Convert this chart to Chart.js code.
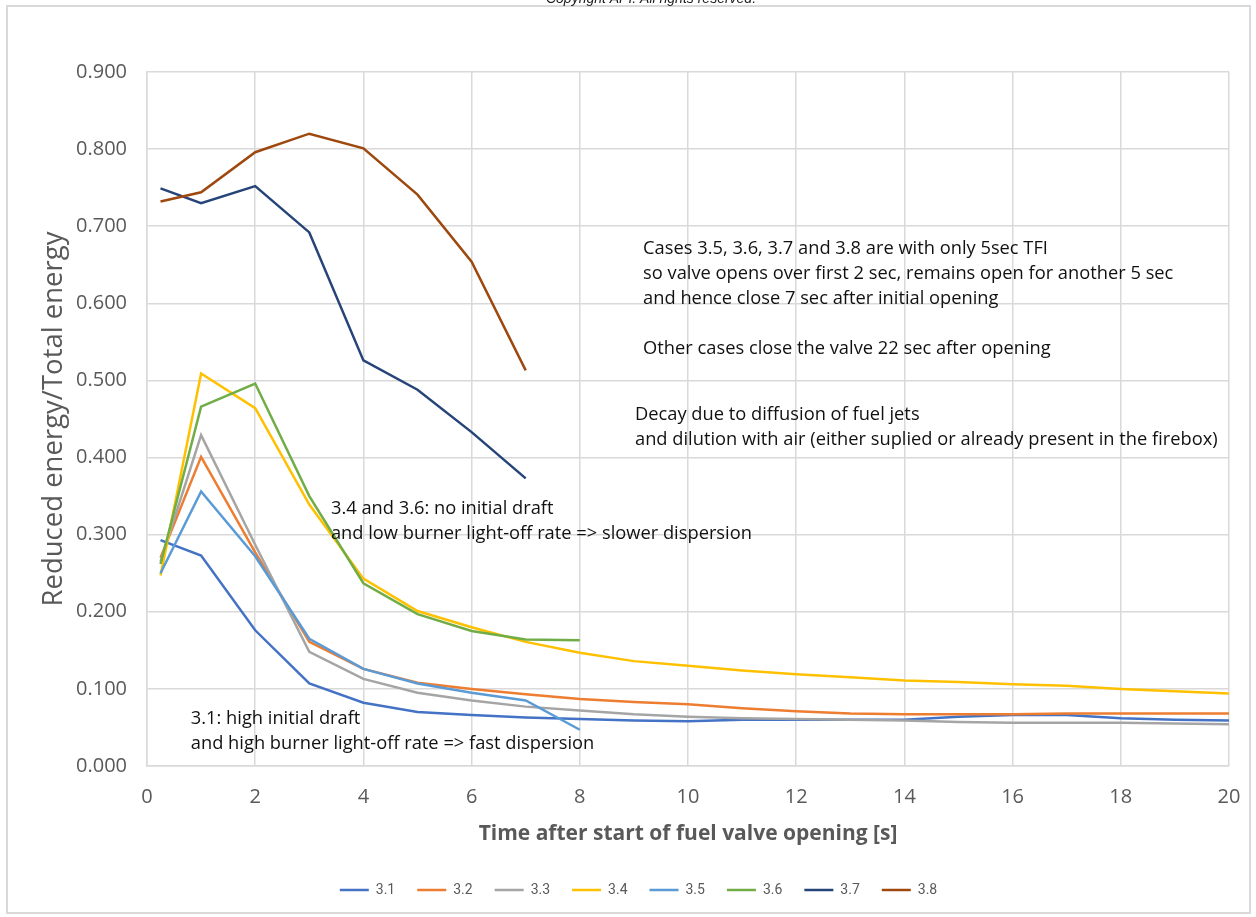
<!DOCTYPE html>
<html>
<head>
<meta charset="utf-8">
<script src="https://cdn.jsdelivr.net/npm/chart.js@4.4.1/dist/chart.umd.min.js"></script>
<style>
    html, body { margin: 0; padding: 0; background: #fff; }
    #wrap { width: 1256px; height: 917px; }
</style>
</head>
<body>
<div id="wrap"><canvas id="myChart" width="1256" height="917"></canvas></div>
<script>
// time after start of fuel valve opening [s]
const times = [0.25, 1, 2, 3, 4, 5, 6, 7, 8, 9, 10, 11, 12, 13, 14, 15, 16, 17, 18, 19, 20];

// reduced energy / total energy, per case
const case31 = [0.293, 0.273, 0.176, 0.107, 0.082, 0.070, 0.066, 0.063, 0.061, 0.059, 0.058, 0.060, 0.060, 0.060, 0.060, 0.064, 0.066, 0.066, 0.062, 0.060, 0.059];
const case32 = [0.270, 0.401, 0.277, 0.161, 0.126, 0.108, 0.100, 0.093, 0.087, 0.083, 0.080, 0.075, 0.071, 0.068, 0.067, 0.067, 0.067, 0.068, 0.068, 0.068, 0.068];
const case33 = [0.265, 0.429, 0.287, 0.148, 0.113, 0.095, 0.085, 0.077, 0.072, 0.067, 0.064, 0.062, 0.061, 0.060, 0.059, 0.057, 0.056, 0.056, 0.056, 0.055, 0.054];
const case34 = [0.247, 0.509, 0.464, 0.339, 0.243, 0.201, 0.180, 0.161, 0.147, 0.136, 0.130, 0.124, 0.119, 0.115, 0.111, 0.109, 0.106, 0.104, 0.100, 0.097, 0.094];
const case35 = [0.250, 0.356, 0.272, 0.165, 0.126, 0.107, 0.095, 0.085, 0.047];
const case36 = [0.262, 0.466, 0.496, 0.350, 0.237, 0.197, 0.175, 0.164, 0.163];
const case37 = [0.749, 0.730, 0.752, 0.692, 0.526, 0.488, 0.433, 0.373];
const case38 = [0.732, 0.744, 0.796, 0.820, 0.801, 0.741, 0.654, 0.513];

const caseLabels = ['3.1', '3.2', '3.3', '3.4', '3.5', '3.6', '3.7', '3.8'];
const caseValues = [case31, case32, case33, case34, case35, case36, case37, case38];
const caseColors = ['#4472C4', '#ED7D31', '#A5A5A5', '#FFC000', '#5B9BD5', '#70AD47', '#264478', '#9E480E'];

const yTicks = [0, 0.1, 0.2, 0.3, 0.4, 0.5, 0.6, 0.7, 0.8, 0.9];
const xTicks = [0, 2, 4, 6, 8, 10, 12, 14, 16, 18, 20];

// notes on the plot, anchored in data units (left edge, centre of first line)
const notes = [
    { x: 9.17, y: 0.671, lines: ['Cases 3.5, 3.6, 3.7 and 3.8 are with only 5sec TFI',
                                 'so valve opens over first 2 sec, remains open for another 5 sec',
                                 'and hence close 7 sec after initial opening',
                                 '',
                                 'Other cases close the valve 22 sec after opening'] },
    { x: 9.02, y: 0.455, lines: ['Decay due to diffusion of fuel jets',
                                 'and dilution with air (either suplied or already present in the firebox)'] },
    { x: 3.40, y: 0.334, lines: ['3.4 and 3.6: no initial draft',
                                 'and low burner light-off rate => slower dispersion'] },
    { x: 0.81, y: 0.061, lines: ['3.1: high initial draft',
                                 'and high burner light-off rate => fast dispersion'] }
];

const axisGray = '#595959';
const gridGray = '#d9d9d9';

const datasets = caseValues.map((vals, i) => ({
    label: caseLabels[i],
    data: vals.map((v, j) => ({ x: times[j], y: v })),
    borderColor: caseColors[i],
    backgroundColor: caseColors[i],
    borderWidth: 2.5,
    pointRadius: 0,
    tension: 0,
    fill: false,
    order: caseLabels.length - i
}));

const notesPlugin = {
    id: 'notes',
    afterDatasetsDraw(chart) {
        const { ctx, scales: { x, y } } = chart;
        ctx.save();
        ctx.font = '18.3px "Open Sans"';
        ctx.fillStyle = '#111';
        ctx.textBaseline = 'middle';
        ctx.textAlign = 'left';
        notes.forEach(n => {
            const px = x.getPixelForValue(n.x);
            const py = y.getPixelForValue(n.y);
            n.lines.forEach((t, k) => ctx.fillText(t, px, py + k * 25));
        });
        ctx.restore();
    }
};

const framePlugin = {
    id: 'frame',
    afterLayout(chart) {
        // legend sits a little right of centre in the original
        chart.legend.left += 24;
        chart.legend.right += 24;
    },
    beforeDraw(chart) {
        const { ctx, width, height } = chart;
        ctx.save();
        ctx.fillStyle = '#fff';
        ctx.fillRect(0, 0, width, height);
        ctx.strokeStyle = '#d9d9d9';
        ctx.lineWidth = 2;
        ctx.strokeRect(7, 6, width - 13, height - 10);
        ctx.font = 'italic 14px "Liberation Sans"';
        ctx.fillStyle = '#222';
        ctx.textAlign = 'center';
        ctx.textBaseline = 'alphabetic';
        ctx.fillText('Copyright API. All rights reserved.', 651, 3);
        ctx.restore();
    }
};

const ctx = document.getElementById('myChart').getContext('2d');
const myChart = new Chart(ctx, {
    type: 'line',
    data: { datasets },
    options: {
        responsive: false,
        animation: false,
        layout: { padding: { top: 72, right: 27, bottom: 10, left: 0 } },
        plugins: {
            tooltip: { enabled: false },
            legend: {
                position: 'bottom',
                labels: {
                    usePointStyle: true,
                    pointStyle: 'line',
                    pointStyleWidth: 29,
                    boxHeight: 13,
                    padding: 22,
                    color: axisGray,
                    font: { family: 'Roboto', size: 14 },
                    sort: (a, b) => a.datasetIndex - b.datasetIndex
                }
            }
        },
        scales: {
            x: {
                type: 'linear',
                min: 0,
                max: 20,
                afterBuildTicks: s => { s.ticks = xTicks.map(v => ({ value: v })); },
                afterFit: s => { s.height = 95; s.paddingLeft = 0; s.paddingRight = 0; },
                grid: { color: gridGray, lineWidth: 1.5, drawTicks: false },
                border: { color: gridGray, width: 1.5 },
                ticks: { color: axisGray, padding: 19, font: { family: 'Open Sans', size: 20 } },
                title: {
                    display: true,
                    text: 'Time after start of fuel valve opening [s]',
                    color: axisGray,
                    padding: { top: 0, bottom: 14 },
                    font: { family: 'Open Sans', size: 21, weight: 'bold' }
                }
            },
            y: {
                min: 0,
                max: 0.9,
                afterBuildTicks: s => { s.ticks = yTicks.map(v => ({ value: v })); },
                afterFit: s => { s.width = 147; },
                grid: { color: gridGray, lineWidth: 1.5, drawTicks: false },
                border: { color: gridGray, width: 1.5 },
                ticks: {
                    color: axisGray,
                    padding: 20,
                    font: { family: 'Open Sans', size: 20 },
                    callback: v => v.toFixed(3)
                },
                title: {
                    display: true,
                    text: 'Reduced energy/Total energy',
                    color: axisGray,
                    padding: { top: 38, bottom: 0 },
                    font: { family: 'Open Sans', size: 27.5 }
                }
            }
        }
    },
    plugins: [framePlugin, notesPlugin]
});
</script>
</body>
</html>
